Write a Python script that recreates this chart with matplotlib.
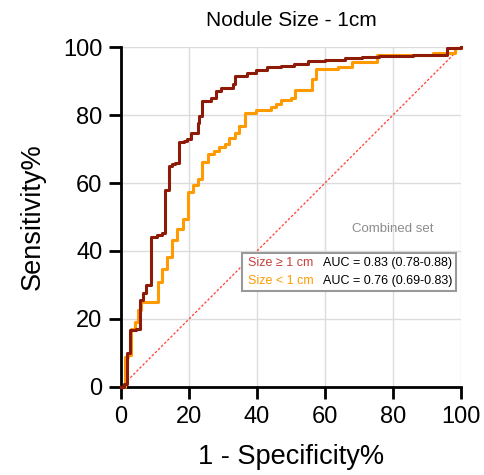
import matplotlib
matplotlib.use("Agg")
import matplotlib.pyplot as plt
from matplotlib.patches import Rectangle

plt.rcParams['font.family'] = ['Liberation Sans', 'DejaVu Sans']

# Size >= 1 cm (x = 1-specificity %, y = sensitivity %)
big_fpr = [0, 0.8, 1.8, 2.6, 4.5, 5.5, 6.5, 7.4, 8.7, 10.5, 12.0, 13.0, 14.1, 15.0, 16.0,
           17.2, 18.5, 19.5, 20.5, 22.5, 23.0, 23.7, 26.4, 27.9, 29.4, 32.8, 33.6, 37.0,
           39.7, 43.0, 47.0, 51.0, 55.0, 60.0, 66.0, 71.0, 76.0, 86.0, 96.0, 100]
big_tpr = [0, 1, 10, 16.7, 17, 25.5, 27.5, 30, 44, 44.6, 45.3, 58, 65, 65.5, 66,
           72, 72.5, 73, 74.7, 77.6, 79.6, 84, 85, 87, 88, 89, 91.4, 92.5,
           93.3, 94, 94.5, 95, 95.8, 96.3, 96.7, 97, 97.3, 97.6, 99.6, 100]

# Size < 1 cm
small_fpr = [0, 1.3, 2.0, 3.0, 4.0, 5.0, 5.9, 10.8, 12.1, 13.6, 14.9, 16.6, 18.2, 19.7,
             21.3, 22.7, 23.9, 25.6, 27.4, 28.9, 30.5, 31.8, 33.5, 34.8, 36.5, 39.7,
             44.1, 45.6, 47.1, 50.0, 51.2, 56.1, 57.3, 63.9, 67.8, 75.2, 91.8, 98.2, 100]
small_tpr = [0, 8.8, 9.5, 17.2, 19, 22.5, 25, 30.9, 34.8, 38.2, 43.1, 46.6, 49.5, 57.5,
             59.5, 61.3, 66.1, 68.5, 69.3, 70.6, 71.6, 73.2, 74.7, 76.7, 80.6, 81.6,
             82.4, 83.3, 84.5, 85, 87.5, 90.5, 93.4, 94.2, 95.7, 97.6, 98.1, 99.6, 100]

labels = ["Size \u2265 1 cm", "Size < 1 cm"]
aucs = ["AUC = 0.83 (0.78-0.88)", "AUC = 0.76 (0.69-0.83)"]
ticks = [0, 20, 40, 60, 80, 100]

c_big = '#8e1a08'
c_small = '#ff9a00'
lab_colors = ['#c9403a', '#ff9a00']

fig = plt.figure(figsize=(4.85, 4.75), dpi=100)
ax = fig.add_axes([0.2495, 0.1853, 0.701, 0.7157])

ax.plot([0, 100], [0, 100], color='#ff3b2f', lw=0.9, ls=(0, (2, 1.5)), zorder=2, clip_on=False)
ax.plot(small_fpr, small_tpr, drawstyle='steps-post', color=c_small, lw=2.2, zorder=3, clip_on=False)
ax.plot(big_fpr, big_tpr, drawstyle='steps-post', color=c_big, lw=2.2, zorder=4, clip_on=False)

ax.set_xlim(0, 100)
ax.set_ylim(0, 100)
ax.set_xticks(ticks)
ax.set_yticks(ticks)
ax.grid(True, color='#dcdcdc', lw=1.0)
ax.set_axisbelow(True)
for s in ['top', 'right']:
    ax.spines[s].set_visible(False)
for s in ['left', 'bottom']:
    ax.spines[s].set_linewidth(2.0)
ax.tick_params(direction='out', length=8.5, width=2.0, labelsize=17, pad=5)

ax.set_title("Nodule Size - 1cm", fontsize=15, pad=15)
ax.set_xlabel("1 - Specificity%", fontsize=19.5, labelpad=12)
ax.set_ylabel("Sensitivity%", fontsize=19.5, labelpad=12)

ax.text(79.8, 46.5, "Combined set", fontsize=9.5, color='#8c8c8c', ha='center', va='center')

# legend box
ax.add_patch(Rectangle((35.7, 28.2), 62.7, 11.2, fill=True, facecolor='white',
                       edgecolor='#999999', lw=1.5, zorder=5))
for i, (lab, auc) in enumerate(zip(labels, aucs)):
    y = 36.6 - i * 5.3
    ax.text(37.4, y, lab, fontsize=9, color=lab_colors[i], va='center', ha='left', zorder=6)
    ax.text(59.5, y, auc, fontsize=9, color='black', va='center', ha='left', zorder=6)

fig.savefig("out.png", dpi=100)
